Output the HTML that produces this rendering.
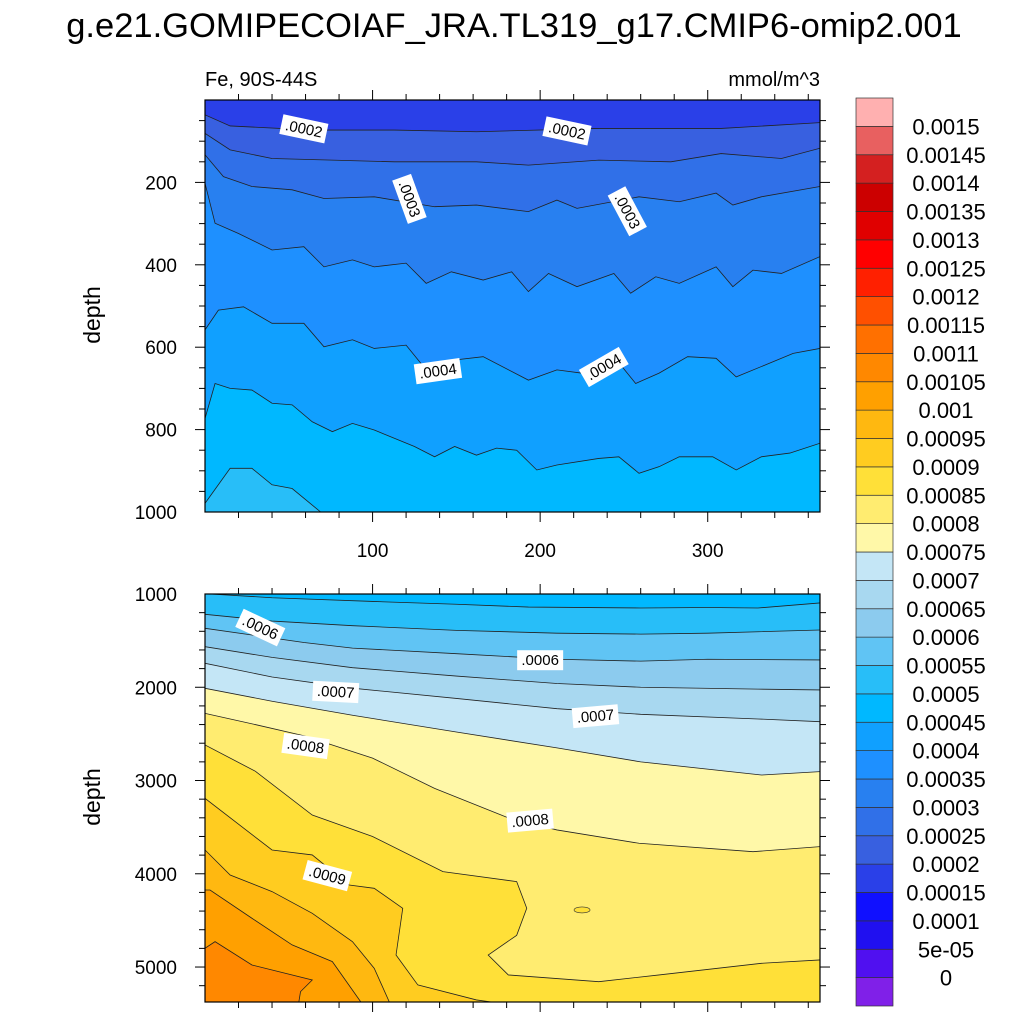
<!DOCTYPE html>
<html><head><meta charset="utf-8">
<style>
html,body{margin:0;padding:0;background:#fff;}
svg{display:block;font-family:"Liberation Sans",sans-serif;}
</style></head>
<body>
<svg id="chart" width="1024" height="1024" viewBox="0 0 1024 1024" xmlns="http://www.w3.org/2000/svg">
<rect x="0" y="0" width="1024" height="1024" fill="#fff"/>
<text x="514" y="37" font-size="34.5" text-anchor="middle">g.e21.GOMIPECOIAF_JRA.TL319_g17.CMIP6-omip2.001</text>
<text x="205" y="86" font-size="20">Fe, 90S-44S</text>
<text x="820" y="86" font-size="20" text-anchor="end">mmol/m^3</text>
<text transform="translate(100,315) rotate(-90)" font-size="23" text-anchor="middle">depth</text>
<text transform="translate(100,797) rotate(-90)" font-size="23" text-anchor="middle">depth</text>
<g id="top"></g>
<g id="bot"></g>
<g id="cbar"></g>
</svg>
<script>
const levelColors = ["#8020E8","#5010F0","#2010F0","#1010FF","#2A40E8","#3860E0","#3070E8","#2880F0","#1E90FF","#10A0FF","#00B8FF","#28BEF8","#60C4F4","#8CCBEE","#A8D8F0","#C4E6F6","#FFF8A8","#FFEC70","#FFE038","#FFCC20","#FFB810","#FFA000","#FF8800","#FF7000","#FF5000","#FF2000","#FF0000","#E00000","#CC0000","#D42020","#E86060","#FFB0B0"];
const levelLabels = ["0","5e-05","0.0001","0.00015","0.0002","0.00025","0.0003","0.00035","0.0004","0.00045","0.0005","0.00055","0.0006","0.00065","0.0007","0.00075","0.0008","0.00085","0.0009","0.00095","0.001","0.00105","0.0011","0.00115","0.0012","0.00125","0.0013","0.00135","0.0014","0.00145","0.0015"];

const topLevels = [4,5,6,7,8,9,10];
const topC4 = [[0,36],[15,63],[64,73],[113,73],[162,77],[235,69],[308,69],[367,55]];
const topC5 = [[0,81],[15,121],[40,142],[76,146],[113,150],[162,150],[193,158],[235,146],[278,150],[308,130],[344,142],[367,117]];
const topC6 = [[0,133],[11,186],[28,210],[52,218],[71,239],[101,235],[137,259],[162,255],[193,271],[210,243],[222,263],[259,235],[283,247],[305,226],[315,255],[332,235],[367,210]];
const topC7 = [[0,202],[6,299],[20,324],[40,364],[59,356],[71,405],[88,388],[101,405],[120,396],[132,445],[147,417],[166,437],[183,417],[193,465],[205,421],[222,453],[244,421],[254,469],[269,429],[283,445],[305,405],[315,453],[327,413],[344,421],[367,380]];
const topC8 = [[0,558],[8,510],[23,502],[40,542],[59,542],[71,599],[88,582],[101,603],[120,595],[132,655],[149,631],[166,623],[193,680],[210,655],[225,663],[244,623],[257,688],[271,663],[288,623],[305,627],[317,672],[332,647],[351,615],[367,603]];
const topC9 = [[0,773],[6,688],[15,700],[28,704],[40,736],[52,740],[64,781],[76,805],[88,785],[101,801],[125,841],[137,866],[149,841],[162,862],[174,845],[186,850],[198,898],[210,886],[235,870],[247,866],[259,906],[271,890],[283,866],[303,866],[317,898],[332,866],[349,857],[367,833]];
const topC10 = [[0,979],[15,894],[28,894],[40,934],[52,943],[69,1000]];
const topContours = [topC4,topC5,topC6,topC7,topC8,topC9,topC10];

const botLevels = [10,11,12,13,14,15,16,17,18,19,20,21];
const botC10 = [[3,1000],[40,1040],[100,1080],[150,1110],[193,1140],[260,1150],[300,1145],[330,1150],[367,1096]];
const botC11 = [[0,1218],[40,1290],[88,1340],[150,1390],[210,1420],[260,1430],[300,1420],[367,1386]];
const botC12 = [[0,1368],[28,1440],[59,1520],[88,1580],[150,1640],[210,1700],[260,1720],[300,1700],[367,1707]];
const botC13 = [[0,1565],[40,1680],[88,1790],[150,1880],[210,1960],[260,2000],[330,2020],[367,2029]];
const botC14 = [[0,1743],[40,1890],[88,2010],[150,2120],[210,2230],[260,2290],[330,2340],[367,2369]];
const botC15 = [[0,2011],[40,2150],[88,2300],[150,2480],[210,2650],[260,2800],[332,2941],[367,2905]];
const botC16 = [[0,2280],[30,2400],[59,2520],[100,2760],[137,3084],[181,3400],[210,3530],[259,3673],[327,3763],[367,3709]];
const botC17 = [[0,2619],[30,2900],[64,3370],[100,3600],[142,3977],[186,4084],[192,4370],[186,4660],[169,4871],[181,5085],[235,5157],[271,5085],[332,4960],[367,4924]];
const botC18 = [[0,3191],[40,3745],[64,3798],[86,4120],[101,4156],[118,4370],[114,4871],[127,5192],[162,5353],[171,5375]];
const botC19 = [[0,3745],[15,4013],[40,4191],[64,4424],[88,4728],[101,5014],[110,5375]];
const botC20 = [[0,4174],[3,4174],[28,4477],[52,4763],[76,4942],[93,5375]];
const botC21 = [[0,4799],[6,4728],[28,4978],[64,5139],[57,5264],[56,5375]];
const botContours = [botC10,botC11,botC12,botC13,botC14,botC15,botC16,botC17,botC18,botC19,botC20,botC21];
const botIsland = [225,4388];

const topYTicks = [200,400,600,800,1000];
const botYTicks = [1000,2000,3000,4000,5000];
const xTicks = [100,200,300];

const topLabels = [[".0002",59,70,12],[".0002",216,75,12],[".0003",122,240,70],[".0003",252,270,62],[".0004",139,658,-8],[".0004",238,648,-30]];
const botLabels = [[".0006",33,1360,25],[".0006",200,1710,0],[".0007",78,2050,3],[".0007",233,2310,-5],[".0008",60,2630,8],[".0008",194,3430,-5],[".0009",73,4020,15]];

const NS="http://www.w3.org/2000/svg";
function mk(tag,attrs,parent){const e=document.createElementNS(NS,tag);for(const k in attrs)e.setAttribute(k,attrs[k]);parent.appendChild(e);return e;}

function panel(g,cfg){
  const X=d=>cfg.x0+(d-cfg.d0)/(cfg.d1-cfg.d0)*(cfg.x1-cfg.x0);
  const Y=v=>cfg.y0+(v-cfg.v0)/(cfg.v1-cfg.v0)*(cfg.y1-cfg.y0);
  const cp=mk('clipPath',{id:cfg.id+'clip'},g);
  mk('rect',{x:cfg.x0,y:cfg.y0,width:cfg.x1-cfg.x0,height:cfg.y1-cfg.y0},cp);
  const fg=mk('g',{'clip-path':'url(#'+cfg.id+'clip)'},g);
  const bgc=mk('rect',{x:cfg.x0,y:cfg.y0,width:cfg.x1-cfg.x0,height:cfg.y1-cfg.y0,fill:levelColors[cfg.levels[cfg.levels.length-1]+1]},fg);
  
  
  for(let i=cfg.contours.length-1;i>=0;i--){
    const c=cfg.contours[i];
    let pts=c.map(p=>[X(p[0]),Y(p[1])]);
    const last=c[c.length-1];
    let poly=pts.slice();
    if(last[1]>=cfg.v1) poly.push([X(cfg.d1)+2,Y(cfg.v1)+2]);
    poly.push([X(cfg.d1)+2,Y(cfg.v0)-2]);poly.push([X(cfg.d0)-2,Y(cfg.v0)-2]);
    const b=mk('polygon',{points:poly.map(p=>p.join(',')).join(' '),fill:levelColors[cfg.levels[i]]},fg);
    
    
    if(cfg.island && i===cfg.islandAfter){
      const e=mk('ellipse',{cx:X(cfg.island[0]),cy:Y(cfg.island[1]),rx:8,ry:3,fill:levelColors[18],stroke:'#333','stroke-width':0.6},fg);
      
      
    }
  }
  cfg.contours.forEach((c,i)=>{
    const l=mk('polyline',{points:c.map(p=>X(p[0])+','+Y(p[1])).join(' '),fill:'none',stroke:'#222','stroke-width':0.8},fg);
    
    
  });
  cfg.labels.forEach(L=>{
    const lg=mk('g',{transform:'translate('+X(L[1])+','+Y(L[2])+') rotate('+L[3]+')'},g);
    
    
    mk('rect',{x:-23,y:-10,width:46,height:20,fill:'#fff'},lg);
    const t=mk('text',{x:0,y:5,'font-size':15,'text-anchor':'middle'},lg);t.textContent=L[0];
  });
  const fr=mk('rect',{x:cfg.x0,y:cfg.y0,width:cfg.x1-cfg.x0,height:cfg.y1-cfg.y0,fill:'none',stroke:'#000','stroke-width':1.2},g);
  
  
  const tg=mk('g',{stroke:'#000','stroke-width':1},g);
  
  
  for(let d=20;d<cfg.d1;d+=20){
    const major=d%100===0, len=major?10:6, x=X(d);
    mk('line',{x1:x,y1:cfg.y0,x2:x,y2:cfg.y0-len},tg);
    mk('line',{x1:x,y1:cfg.y1,x2:x,y2:cfg.y1+len},tg);
  }
  for(let v=cfg.v0+cfg.minor;v<cfg.v1;v+=cfg.minor){
    const major=v%cfg.major===0, len=major?10:6, y=Y(v);
    mk('line',{x1:cfg.x0,y1:y,x2:cfg.x0-len,y2:y},tg);
    mk('line',{x1:cfg.x1,y1:y,x2:cfg.x1+len,y2:y},tg);
  }
  cfg.yTicks.forEach(v=>{
    const t=mk('text',{x:cfg.x0-28,y:Y(v)+7,'font-size':19,'text-anchor':'end'},g);
    t.textContent=v;
    
    
  });
  if(cfg.xTicks) cfg.xTicks.forEach(d=>{
    const t=mk('text',{x:X(d),y:cfg.y1+45,'font-size':19,'text-anchor':'middle'},g);
    t.textContent=d;
    
    
  });
}

panel(document.getElementById('top'),{id:'top',x0:205,x1:820,y0:100,y1:512,d0:0,d1:367,v0:0,v1:1000,minor:50,major:200,contours:topContours,levels:topLevels,labels:topLabels,yTicks:topYTicks,xTicks:xTicks});
panel(document.getElementById('bot'),{id:'bottom',x0:205,x1:820,y0:594,y1:1002,d0:0,d1:367,v0:1000,v1:5375,minor:200,major:1000,contours:botContours,levels:botLevels,labels:botLabels,yTicks:botYTicks,island:botIsland,islandAfter:7});
document.getElementById('top');
document.getElementById('top');
document.getElementById('bot');
document.getElementById('bot');

const cb=document.getElementById('cbar');


const cbTop=98, cbBot=1006, n=levelColors.length, bh=(cbBot-cbTop)/n;
levelColors.forEach((c,i)=>{
  const r=mk('rect',{x:856,y:cbBot-(i+1)*bh,width:37,height:bh,fill:c,stroke:'#333','stroke-width':0.7},cb);
  
  
});
levelLabels.forEach((s,k)=>{
  const t=mk('text',{x:946,y:cbBot-(k+1)*bh+8,'font-size':22,'text-anchor':'middle'},cb);
  t.textContent=s;
  
  
});
</script>
</body></html>
